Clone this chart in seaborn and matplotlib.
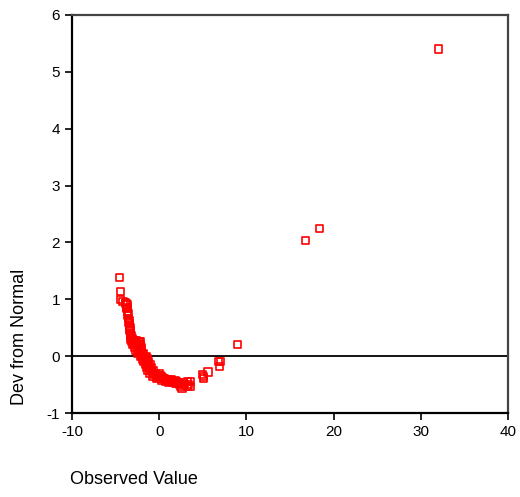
import numpy as np
import pandas as pd
import matplotlib
matplotlib.use("Agg")
import matplotlib.pyplot as plt
import seaborn as sns

# Detrended normal Q-Q values
observed = [
    -4.6, -4.45, -4.45, -4.15, -3.85, -3.7, -3.75, -3.65, -3.6, -3.55,
    -3.5, -3.45, -3.4, -3.35, -3.3, -3.3, -3.25, -3.2, -3.0, -2.8,
    -2.6, -2.4, -2.2,
    -3.8, -3.7, -3.55, -3.45, -3.4, -3.35, -3.15, -3.05, -2.95, -2.9,
    -3.0, -2.85, -2.75, -2.5, -2.15, -1.95, -1.75, -1.6, -1.5, -1.3, -1.1, -0.8, -0.3,
    -2.65, -2.5, -2.4, -2.25, -1.98, -1.72, -1.55, -1.4, -1.28, -1.1, -0.9, -0.62, -0.2,
    -2.3, -2.2, -2.1, -2.0, -1.8, -1.5, -1.35, -1.2, -1.05, -0.9, -0.7, -0.45, -0.1,
    0.0, 0.2, 0.4, 0.6, 0.8, 1.0, 1.2, 1.4, 1.6, 1.8, 2.0, 2.2,
    0.1, 0.3, 0.5, 0.7, 0.9, 1.1, 1.3, 1.5, 1.7, 1.9, 2.1,
    0.3, 0.7, 1.1, 1.5, 1.9, 2.3, 2.5, 2.6, 2.9, 2.8,
    3.2, 3.2, 3.6, 3.6, 3.4,
    5.0, 5.05, 5.1, 5.6, 6.8, 7.05, 6.95, 9.0, 16.8, 18.4, 32.0,
]
deviation = [
    1.38, 1.14, 0.99, 0.96, 0.94, 0.90, 0.84, 0.78, 0.72, 0.66,
    0.60, 0.54, 0.49, 0.45, 0.40, 0.34, 0.30, 0.26, 0.27, 0.26,
    0.27, 0.26, 0.25,
    0.92, 0.86, 0.75, 0.63, 0.57, 0.51, 0.36, 0.31, 0.22, 0.28,
    0.20, 0.15, 0.10, 0.05, 0.0, -0.05, -0.10, -0.15, -0.20, -0.25, -0.30, -0.35, -0.40,
    0.22, 0.17, 0.12, 0.07, 0.02, -0.03, -0.08, -0.12, -0.18, -0.22, -0.27, -0.32, -0.37,
    0.25, 0.20, 0.15, 0.10, 0.05, 0.0, -0.05, -0.10, -0.15, -0.20, -0.25, -0.30, -0.35,
    -0.30, -0.36, -0.38, -0.40, -0.42, -0.41, -0.43, -0.42, -0.44, -0.43, -0.45, -0.47,
    -0.34, -0.39, -0.40, -0.41, -0.43, -0.44, -0.44, -0.45, -0.45, -0.46, -0.48,
    -0.42, -0.44, -0.46, -0.47, -0.48, -0.50, -0.53, -0.56, -0.50, -0.46,
    -0.45, -0.54, -0.45, -0.54, -0.50,
    -0.32, -0.40, -0.36, -0.28, -0.10, -0.10, -0.18, 0.21, 2.04, 2.25, 5.40,
]

x_ticks = [-10, 0, 10, 20, 30, 40]
y_ticks = [-1, 0, 1, 2, 3, 4, 5, 6]

df = pd.DataFrame({"observed": observed, "deviation": deviation})

sns.set_style("white")
plt.rcParams['font.family'] = ['Liberation Sans', 'DejaVu Sans']
plt.rcParams['axes.unicode_minus'] = False

fig = plt.figure(figsize=(5.2, 4.97), dpi=100)
ax = fig.add_axes([0.1385, 0.169, 0.8385, 0.801])

ax.axhline(0, color="black", linewidth=1.3, zorder=1)
sns.scatterplot(data=df, x="observed", y="deviation", ax=ax, marker="s", s=27,
                facecolor="none", edgecolor="red", linewidth=1.2, zorder=3)

ax.set_xlim(-10, 40)
ax.set_ylim(-1, 6)
ax.set_xticks(x_ticks)
ax.set_yticks(y_ticks)
ax.tick_params(axis="both", direction="out", length=5, width=1.2, labelsize=11,
               colors="black", bottom=True, left=True, top=False, right=False)
ax.set_xlabel("")
ax.set_ylabel("")

for side in ["left", "bottom"]:
    ax.spines[side].set_color("black")
    ax.spines[side].set_linewidth(1.6)
for side in ["top", "right"]:
    ax.spines[side].set_color("#444444")
    ax.spines[side].set_linewidth(1.6)

fig.text(70 / 520, 1 - 480 / 497, "Observed Value", ha="left", va="center",
         fontsize=13, color="black")
fig.text(20 / 520, 1 - 337 / 497, "Dev from Normal", ha="center", va="center",
         rotation=90, fontsize=13, color="black")

fig.savefig("out.png", dpi=100)
